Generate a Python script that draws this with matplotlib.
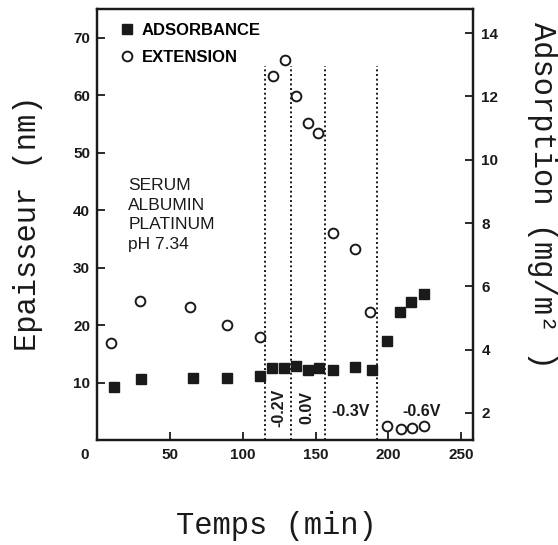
import matplotlib.pyplot as plt
from matplotlib.lines import Line2D

# Epaisseur de la couche (extension) et adsorbance en fonction du temps
temps_ext = [9.6, 29.6, 64, 89, 112, 120.5, 129, 136.5, 144.5, 151.5, 162,
             177, 187.5, 199, 208.5, 216, 224.5]
extension = [16.9, 24.2, 23.2, 20.0, 17.9, 63.4, 66.2, 59.9, 55.2, 53.5, 36.1,
             33.3, 22.3, 2.4, 1.9, 2.1, 2.4]

temps_ads = [11.6, 30, 65.7, 89.1, 111.7, 119.8, 128.1, 136.4, 144.5, 152.1,
             161.7, 176.8, 188.5, 199.2, 208.2, 215.7, 224.6]
adsorbance = [2.82, 3.07, 3.11, 3.11, 3.17, 3.42, 3.42, 3.48, 3.36, 3.42,
              3.36, 3.45, 3.36, 4.27, 5.19, 5.50, 5.76]

# changements de potentiel
changements = [115, 133, 156.5, 192]
tensions = ["-0.2V", "0.0V", "-0.3V", "-0.6V"]
pos_tensions = [125, 144, 174, 223]
rot_tensions = [90, 90, 0, 0]

noir = "#1a1a1a"
sans = "Liberation Sans"
mono = "Liberation Mono"

fig = plt.figure(figsize=(5.58, 5.45), dpi=100)
ax = fig.add_axes([0.1738, 0.1927, 0.6738, 0.7908])
ax2 = ax.twinx()

# lignes pointillées aux changements de potentiel
ax.vlines(changements, 0, 65, colors=noir, linestyles=(0, (1, 1.4)), lw=1.4)

ax.plot(temps_ext, extension, "o", ms=7, mfc="white", mec=noir, mew=1.4,
        ls="none", zorder=3)
ax2.plot(temps_ads, adsorbance, "s", ms=7.5, color=noir, ls="none", zorder=3)

for x, t, r in zip(pos_tensions, tensions, rot_tensions):
    ax.text(x, 5.6 if r else 5.0, t, rotation=r, ha="center", va="center",
            family=sans, weight="bold", fontsize=11.5, color=noir)

ax.text(0.083, 0.607, "SERUM\nALBUMIN\nPLATINUM\npH 7.34", transform=ax.transAxes,
        ha="left", va="top", family=sans, fontsize=12.5, linespacing=1.38,
        color=noir)

# légende
poignees = [Line2D([], [], marker="s", ls="none", ms=7, color=noir),
            Line2D([], [], marker="o", ls="none", ms=7, mfc="white", mec=noir,
                   mew=1.4)]
ax.legend(poignees, ["ADSORBANCE", "EXTENSION"], loc="upper left",
          bbox_to_anchor=(0.062, 0.968), frameon=False, handlelength=0.8,
          handletextpad=0.5, labelspacing=0.75, borderaxespad=0, borderpad=0,
          prop=dict(family=sans, weight="bold", size=12))

ax.set_xlim(0, 258)
ax.set_ylim(0, 75.0)
ax2.set_ylim(1.147, 14.76)

ax.set_xticks([0, 50, 100, 150, 200, 250])
ax.set_xticklabels(["", "50", "100", "150", "200", "250"])
ax.set_yticks([10, 20, 30, 40, 50, 60, 70])
ax2.set_yticks([2, 4, 6, 8, 10, 12, 14])
ax.annotate("0", xy=(0, 0), xycoords="axes fraction", xytext=(-12, -8),
            textcoords="offset pixels", ha="center", va="top",
            family=sans, weight="bold", fontsize=11, color=noir)

for a in (ax, ax2):
    for s in a.spines.values():
        s.set_linewidth(1.6)
        s.set_color(noir)
    a.tick_params(direction="in", length=6, width=1.3, colors=noir,
                  labelsize=11)
    for lab in a.get_xticklabels() + a.get_yticklabels():
        lab.set_family(sans)
        lab.set_weight("bold")
ax.tick_params(axis="x", pad=6)
ax.tick_params(axis="y", pad=5)
ax2.tick_params(axis="y", pad=6)

fig.text(0.4946, 0.035, "Temps (min)", ha="center", va="center",
         family=mono, fontsize=22, color=noir)
fig.text(0.050, 0.591, "Epaisseur (nm)", ha="center", va="center",
         rotation=90, family=mono, fontsize=22, color=noir)
fig.text(0.971, 0.642, "Adsorption (mg/m² )", ha="center", va="center",
         rotation=270, family=mono, fontsize=22, color=noir)

fig.savefig("out.png", dpi=100)
